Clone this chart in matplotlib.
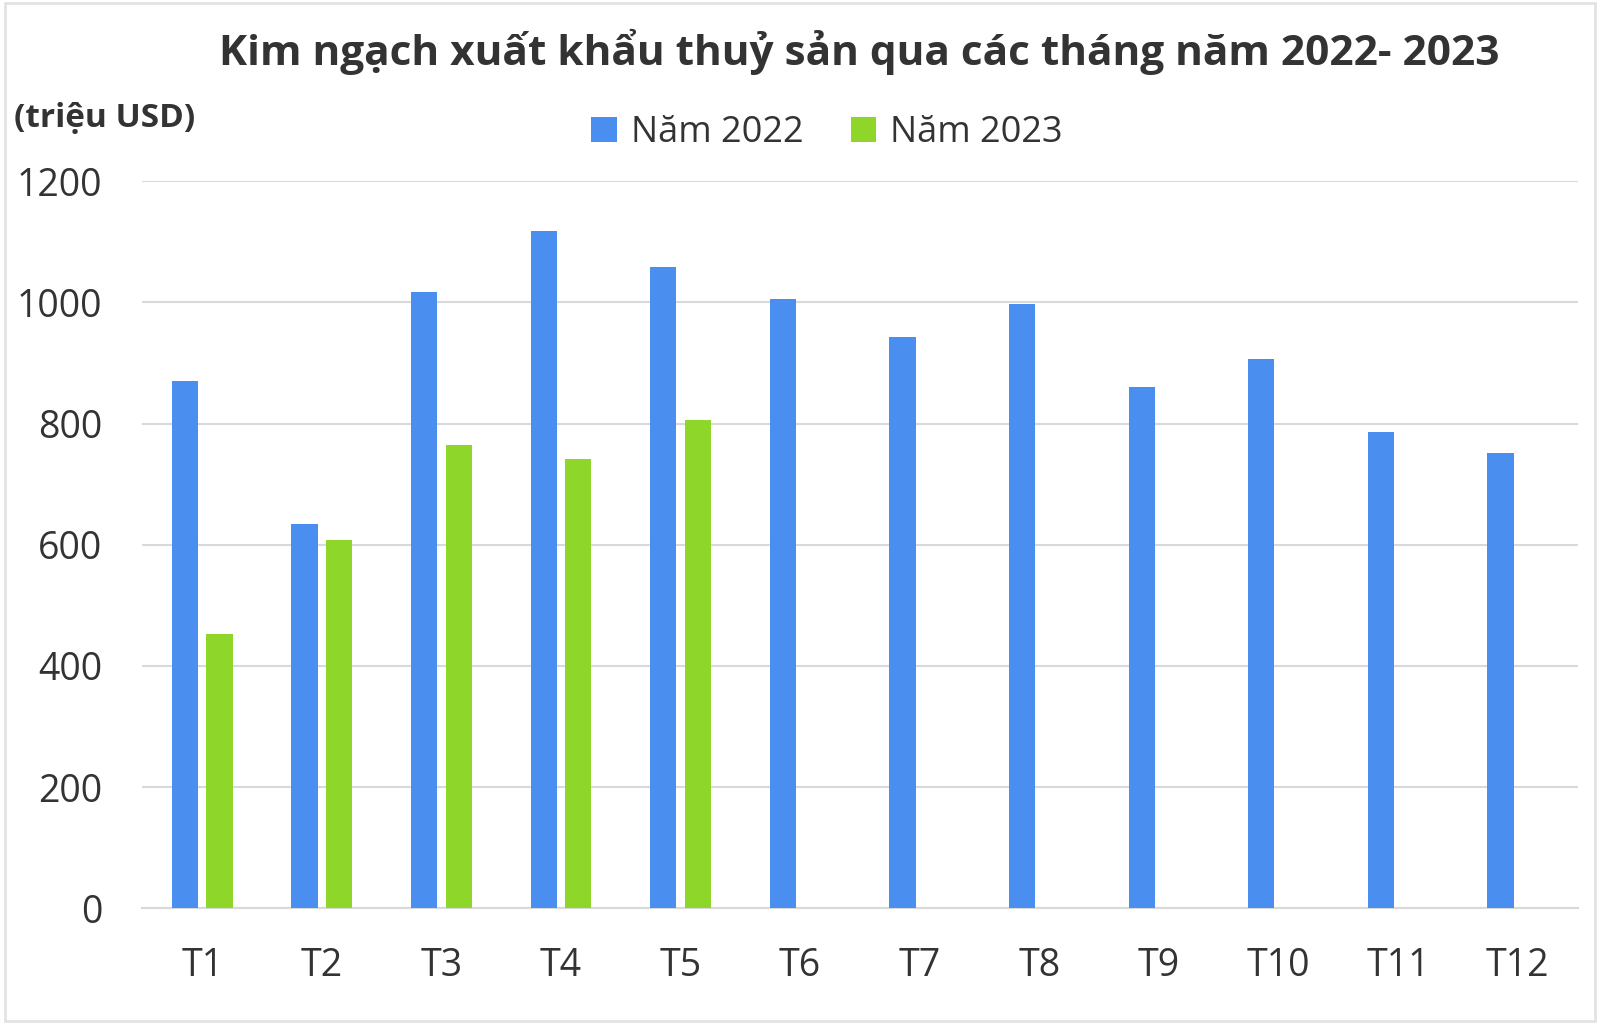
import numpy as np
import matplotlib
matplotlib.use("Agg")
import matplotlib.pyplot as plt

plt.rcParams["font.family"] = ["Open Sans", "DejaVu Sans"]

months = ["T1", "T2", "T3", "T4", "T5", "T6", "T7", "T8", "T9", "T10", "T11", "T12"]
values_2022 = [870, 635, 1018, 1118, 1059, 1005, 943, 998, 860, 906, 786, 752]
values_2023 = [453, 608, 764, 741, 806]

BLUE = "#4a8ff0"
GREEN = "#8fd62a"
TEXT = "#333333"

fig = plt.figure(figsize=(16, 10.24), dpi=100)
ax = fig.add_axes([0.089, 0.113, 0.897, 0.710])

x = np.arange(len(months))
width = 0.22
ax.bar(x - 0.145, values_2022, width, color=BLUE, label="Năm 2022", zorder=3)
ax.bar(x[:len(values_2023)] + 0.145, values_2023, width, color=GREEN, label="Năm 2023", zorder=3)

ax.set_xlim(-0.5, 11.5)
ax.set_ylim(0, 1200)
ax.set_yticks(range(0, 1201, 200))
ax.set_xticks(x)
ax.set_xticklabels(months)
ax.tick_params(axis="both", length=0, labelsize=27, labelcolor=TEXT)
ax.tick_params(axis="y", pad=29)
ax.tick_params(axis="x", pad=28)
ax.grid(axis="y", color="#d9d9d9", linewidth=1.5, zorder=0)
for side in ["top", "right", "left"]:
    ax.spines[side].set_visible(False)
ax.spines["bottom"].set_color("#d9d9d9")
ax.spines["bottom"].set_linewidth(1.5)

fig.text(0.537, 0.949, "Kim ngạch xuất khẩu thuỷ sản qua các tháng năm 2022- 2023",
         ha="center", va="center", fontsize=30.5, fontweight="bold", color=TEXT)
fig.text(0.009, 0.884, "(triệu USD)", ha="left", va="center",
         fontsize=24, fontweight="bold", color=TEXT)

ax.legend(loc="center", bbox_to_anchor=(0.477, 1.066), ncol=2, frameon=False,
          fontsize=26, handlelength=0.7, handleheight=0.7, handletextpad=0.4,
          columnspacing=1.3, labelcolor=TEXT)

fig.patches.append(plt.Rectangle((0.003, 0.003), 0.994, 0.994, transform=fig.transFigure,
                                 fill=False, edgecolor="#e3e3e3", linewidth=2))

fig.savefig("out.png", dpi=100, facecolor="white")
